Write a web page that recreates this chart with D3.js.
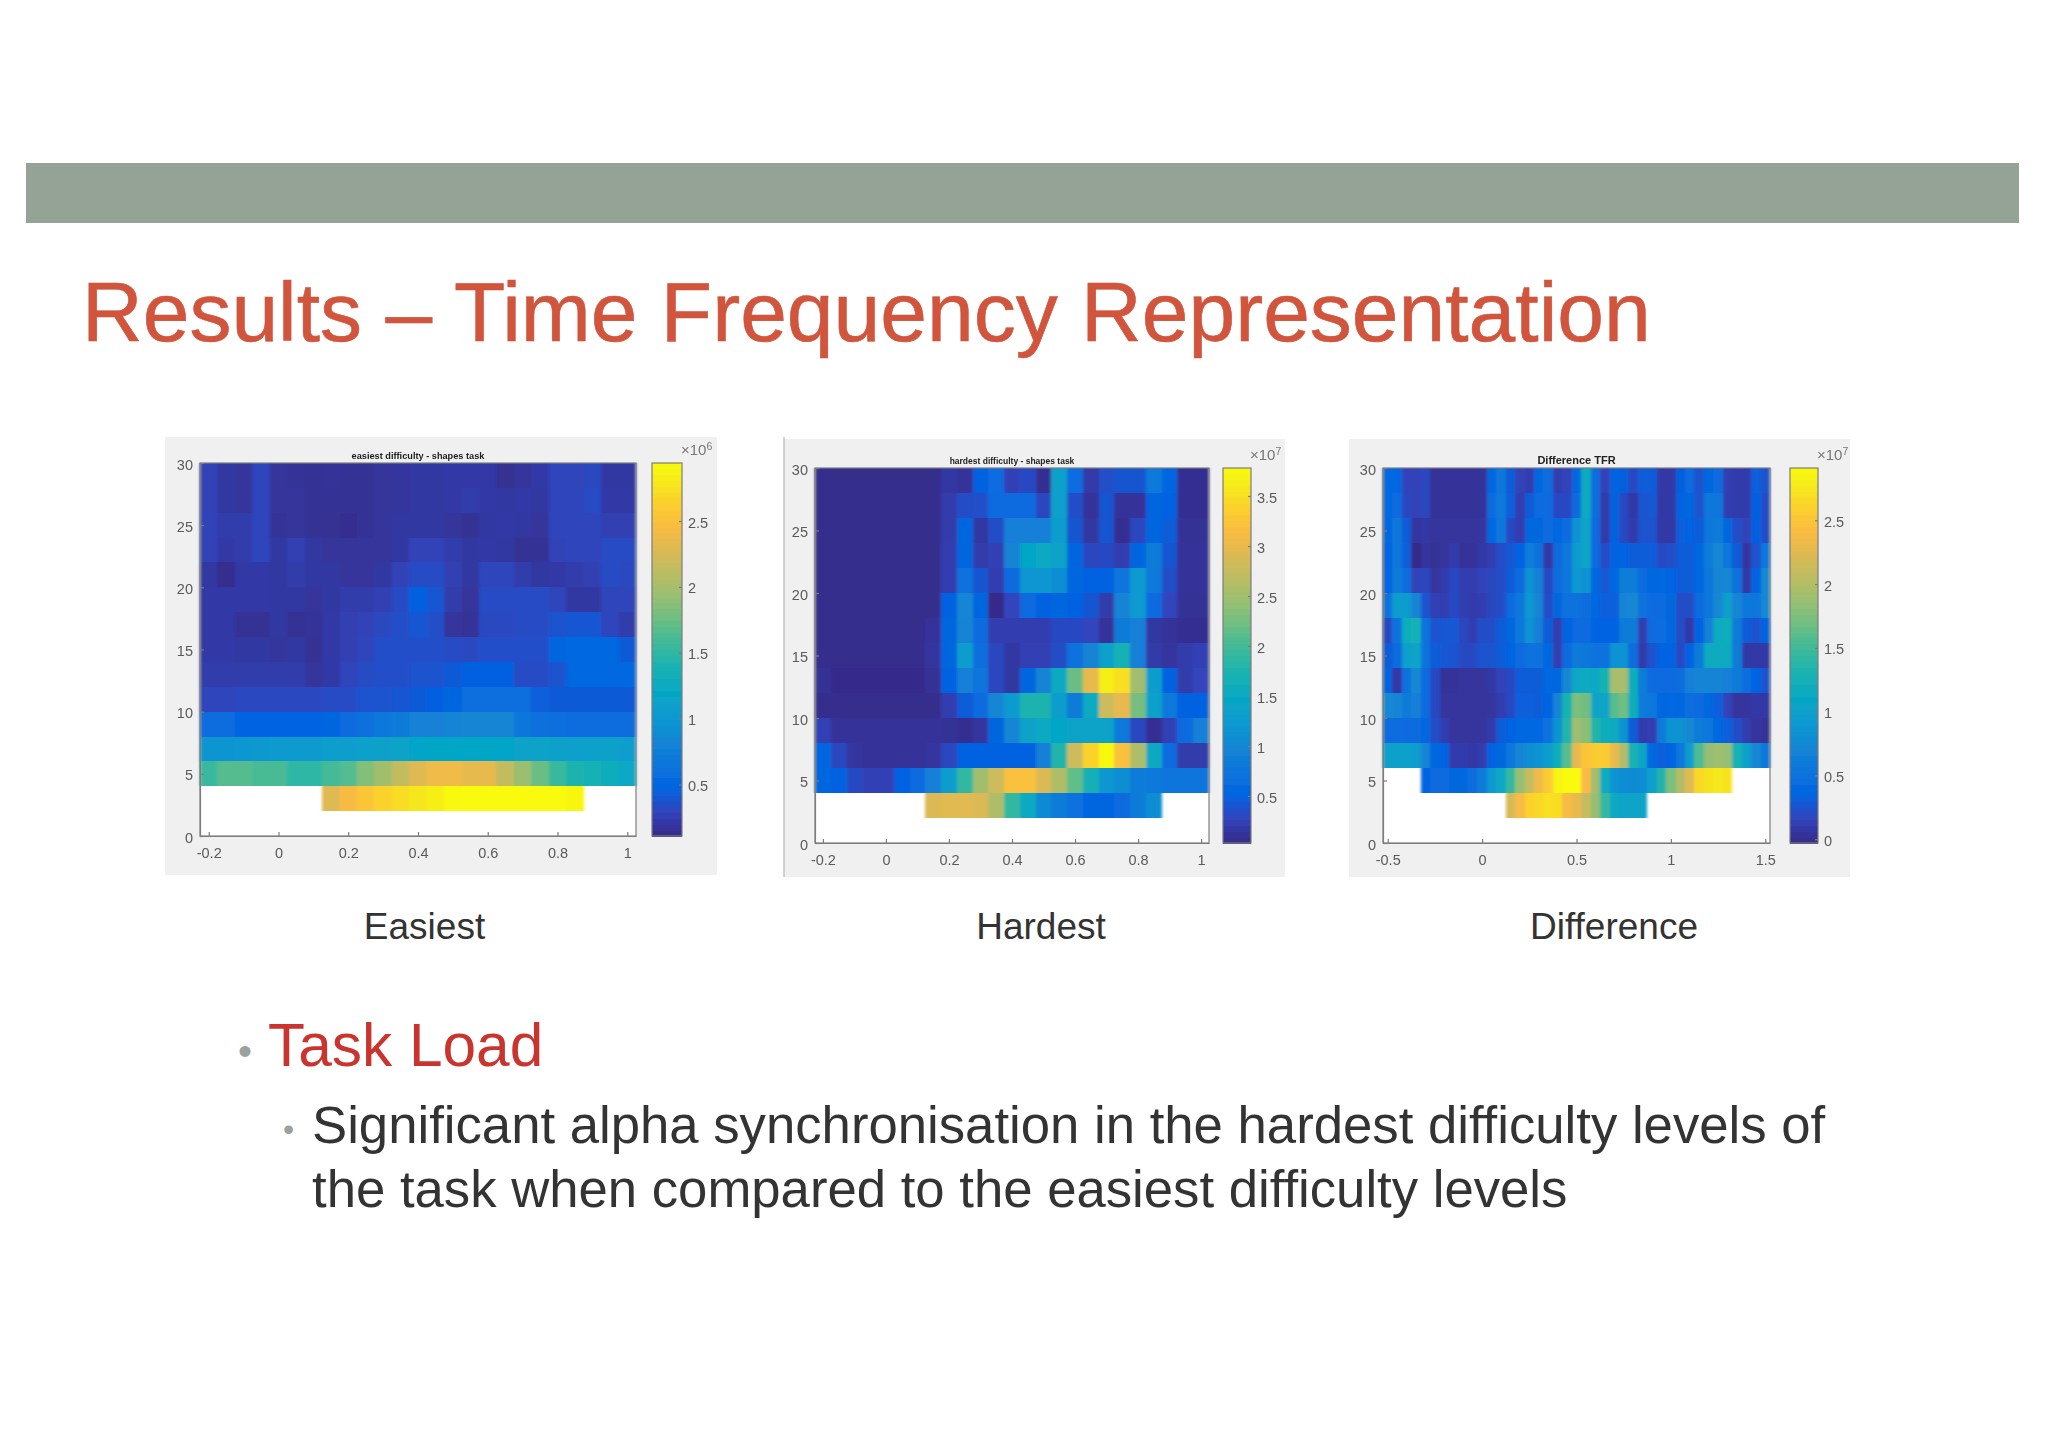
<!DOCTYPE html>
<html>
<head>
<meta charset="utf-8">
<script src="https://cdn.jsdelivr.net/npm/d3@7"></script>
<style>
  html, body { margin: 0; background: #fff; }
  text { font-family: "Liberation Sans", Arial, sans-serif; }
  .axis path, .axis line { stroke: #7d7d7d; stroke-width: 1.2; }
  .axis text { fill: #5a5a5a; font-size: 14.5px; }
  .cell, .step { shape-rendering: crispEdges; }
</style>
</head>
<body>
<svg id="slide" width="2048" height="1448"></svg>
<script>
const N = null

// colormap (parula) stops
const parulaPos = [0, 4, 8, 12, 16, 20, 24, 28, 32, 36, 40, 44, 48, 52, 56, 60, 63]
const parulaColors = ['#352A87', '#3243BA', '#0363E1', '#0D75DC', '#1485D4', '#0998D1', '#06A7C6', '#15B1B4', '#38B99E',
  '#65BE86', '#92BF73', '#B7BD64', '#D9BA56', '#F8BB44', '#FCCE2E', '#F5EB18', '#F9FB0E']

// row centres in Hz, top row first
const freqs = [29, 27, 25, 23, 21, 19, 17, 15, 13, 11, 9, 7, 5, 3]
const freqTicks = [0, 5, 10, 15, 20, 25, 30]

const timesShort = [-0.2, -0.15, -0.1, -0.05, 0, 0.05, 0.1, 0.15, 0.2, 0.25, 0.3, 0.35, 0.4, 0.45, 0.5, 0.55, 0.6, 0.65, 0.7, 0.75, 0.8, 0.85, 0.9, 0.95, 1]
const timesLong = [-0.5, -0.45, -0.4, -0.35, -0.3, -0.25, -0.2, -0.15, -0.1, -0.05, 0, 0.05, 0.1, 0.15, 0.2, 0.25, 0.3, 0.35, 0.4, 0.45, 0.5,
  0.55, 0.6, 0.65, 0.7, 0.75, 0.8, 0.85, 0.9, 0.95, 1, 1.05, 1.1, 1.15, 1.2, 1.25, 1.3, 1.35, 1.4, 1.45, 1.5]
const timeTicksShort = [-0.2, 0, 0.2, 0.4, 0.6, 0.8, 1]
const timeTicksLong = [-0.5, 0, 0.5, 1, 1.5]

// power x 10^6
const easiest = [
  [.28,.20,.18,.30,.18,.17,.16,.17,.16,.16,.18,.19,.20,.20,.22,.22,.22,.15,.18,.22,.30,.30,.32,.20,.20],
  [.28,.20,.18,.30,.18,.18,.16,.16,.16,.16,.18,.19,.20,.20,.22,.24,.22,.20,.22,.20,.30,.30,.34,.22,.22],
  [.28,.24,.24,.30,.17,.18,.16,.15,.14,.16,.18,.20,.20,.20,.18,.16,.20,.22,.20,.18,.30,.30,.30,.26,.26],
  [.28,.22,.24,.30,.20,.26,.20,.18,.18,.18,.18,.20,.28,.28,.24,.20,.22,.20,.16,.16,.28,.30,.30,.34,.34],
  [.20,.13,.22,.22,.20,.24,.20,.20,.18,.18,.20,.28,.34,.34,.26,.20,.30,.30,.24,.20,.22,.24,.26,.34,.32],
  [.22,.22,.22,.22,.20,.20,.18,.20,.24,.24,.26,.34,.46,.40,.24,.18,.34,.34,.34,.34,.30,.20,.20,.30,.30],
  [.22,.22,.16,.16,.20,.16,.17,.22,.26,.28,.32,.36,.40,.36,.18,.17,.32,.32,.34,.34,.38,.40,.40,.30,.24],
  [.22,.22,.20,.20,.19,.20,.16,.22,.26,.30,.36,.36,.36,.36,.34,.32,.36,.36,.36,.36,.50,.52,.52,.52,.42],
  [.24,.24,.24,.24,.24,.24,.18,.22,.30,.34,.36,.36,.38,.38,.42,.46,.46,.46,.34,.34,.38,.52,.52,.52,.52],
  [.30,.30,.32,.32,.32,.32,.32,.34,.34,.38,.38,.40,.42,.46,.50,.58,.58,.58,.58,.44,.42,.42,.42,.42,.42],
  [.56,.56,.48,.48,.48,.48,.48,.50,.55,.60,.68,.72,.78,.78,.82,.84,.84,.84,.66,.60,.58,.56,.56,.56,.56],
  [.98,.98,1.0,1.02,1.04,1.04,1.05,1.08,1.08,1.1,1.12,1.14,1.16,1.18,1.18,1.18,1.18,1.16,1.14,1.14,1.12,1.1,1.1,1.1,1.08],
  [1.55,1.66,1.66,1.62,1.62,1.5,1.5,1.6,1.65,1.85,1.98,2.15,2.3,2.4,2.4,2.35,2.35,2.15,1.95,1.75,1.55,1.42,1.36,1.3,1.2],
  [N,N,N,N,N,N,N,2.3,2.45,2.55,2.65,2.72,2.78,2.84,2.92,2.93,2.93,2.93,2.93,2.93,2.93,2.9,N,N,N]
]

// power x 10^7
const hardest = [
  [.06,.06,.06,.06,.06,.06,.06,.06,.16,.12,.5,.62,.25,.32,.08,1.35,.62,.18,.36,.4,.4,.8,.55,.08,.08],
  [.06,.06,.06,.06,.06,.06,.06,.06,.2,.34,.36,.6,.6,.6,.3,1.35,.35,.12,.4,.12,.12,.55,.5,.08,.08],
  [.06,.06,.06,.06,.06,.06,.06,.06,.2,.55,.15,.35,.9,.9,.9,1.3,.4,.15,.4,.08,.3,.55,.45,.1,.1],
  [.06,.06,.06,.06,.06,.06,.06,.06,.22,.55,.2,.25,.95,1.45,1.5,1.4,.55,.3,.32,.22,.55,.85,.4,.12,.12],
  [.06,.06,.06,.06,.06,.06,.06,.06,.22,.7,.4,.22,.6,1.2,1.2,1.1,.55,.5,.5,.75,1.25,.8,.35,.12,.12],
  [.06,.06,.06,.06,.06,.06,.06,.06,.5,1.0,.55,.04,.28,.6,.5,.55,.5,.4,.2,.95,1.25,.6,.28,.1,.1],
  [.06,.06,.06,.06,.06,.06,.06,.12,.55,.95,.6,.22,.22,.22,.22,.32,.32,.28,.12,.85,.9,.15,.12,.08,.08],
  [.06,.06,.06,.06,.06,.06,.06,.14,.55,1.3,.65,.3,.15,.24,.24,.35,.7,.95,1.35,1.7,.9,.18,.14,.2,.25],
  [.1,.05,.05,.05,.05,.05,.05,.1,.5,.9,.75,.3,.15,.55,.95,1.5,2.2,3.0,3.65,3.5,2.5,1.3,.5,.2,.28],
  [.06,.06,.06,.06,.06,.06,.06,.06,.22,.45,.6,1.0,1.25,1.75,1.75,1.3,.85,1.55,2.8,3.0,2.25,1.35,.8,.5,.5],
  [.25,.12,.12,.12,.12,.12,.12,.12,.1,.08,.14,.55,1.0,1.4,1.5,1.45,1.4,1.4,1.4,.8,.3,.08,.25,.6,.9],
  [.55,.3,.14,.12,.12,.12,.12,.14,.3,.5,.5,.5,.5,.5,.9,1.8,2.8,3.4,3.75,3.2,2.6,1.5,.6,.2,.2],
  [.55,.5,.32,.25,.25,.5,.6,.9,1.3,1.9,2.5,2.8,3.2,3.2,2.9,2.6,2.15,1.65,1.2,1.1,.85,.8,.75,.75,.75],
  [N,N,N,N,N,N,N,2.9,2.95,2.95,2.9,2.6,1.9,1.5,1.05,.85,.7,.55,.55,.6,.85,1.1,N,N,N]
]

// power difference x 10^7
const difference = [
  [.38,.38,.15,.15,.18,.04,.04,.04,.04,.04,.04,.4,.55,.3,.15,.12,.4,.45,.12,.15,.4,1.15,.45,.15,.35,.33,.2,.3,.3,.08,.08,.33,.42,.25,.4,.42,.12,.1,.1,.32,.25],
  [.38,.42,.18,.15,.18,.04,.04,.04,.04,.04,.04,.42,.58,.32,.12,.3,.42,.42,.2,.2,.42,1.15,.45,.1,.35,.2,.08,.25,.28,.08,.08,.35,.4,.25,.55,.55,.12,.1,.1,.33,.22],
  [.4,.55,.3,.06,.08,.05,.05,.05,.05,.05,.05,.38,.55,.2,.12,.4,.4,.42,.38,.42,.85,1.05,.42,.1,.35,.2,.1,.25,.25,.08,.08,.32,.35,.3,.55,.6,.4,.22,.15,.33,.22],
  [.35,.55,.32,-.02,.05,.02,.05,.1,.04,.04,.08,.12,.22,.28,.35,.62,.5,.08,.42,.55,.95,1.05,.42,.22,.35,.35,.3,.3,.3,.2,.22,.3,.3,.4,.6,.75,.55,.3,.05,.25,.55],
  [.35,.6,.45,.15,.18,.06,.1,.2,.12,.12,.15,.18,.22,.3,.42,.85,.65,.2,.45,.55,.9,.85,.4,.28,.38,.62,.62,.42,.4,.38,.35,.3,.3,.4,.55,.7,.75,.5,.08,.35,.75],
  [.5,.95,.95,.7,.25,.14,.12,.2,.12,.1,.12,.18,.22,.42,.55,.9,.7,.22,.4,.5,.5,.45,.38,.32,.32,.7,.75,.5,.42,.42,.4,.22,.22,.42,.55,.75,1.0,.72,.55,.55,.75],
  [.2,.5,1.2,1.25,.5,.25,.28,.28,.18,.12,.22,.22,.3,.4,.55,.85,.65,.3,.12,.35,.42,.42,.35,.35,.35,.6,.6,.12,.42,.45,.4,.22,.08,.35,.65,1.15,1.2,.6,.3,.25,.35],
  [.3,.42,1.0,1.05,.5,.3,.28,.25,.2,.2,.25,.25,.3,.35,.42,.5,.5,.4,.12,.42,.6,.55,.5,.5,.85,.85,.45,.1,.25,.35,.35,.2,.35,.6,1.15,1.15,1.15,.6,.08,.08,.08],
  [.35,.08,.5,.75,.42,.2,.04,.04,.05,.05,.05,.08,.15,.2,.3,.3,.3,.38,.4,.75,1.1,1.15,1.1,1.3,1.95,1.95,1.2,.62,.42,.42,.42,.45,.65,.7,.7,.7,.65,.6,.45,.35,.25],
  [.75,.7,.6,.65,.42,.2,.05,.05,.05,.05,.05,.05,.12,.2,.32,.32,.3,.35,.7,1.3,1.75,1.7,1.05,1.05,1.6,1.7,1.2,.6,.55,.4,.38,.4,.45,.42,.4,.32,.15,.05,.06,.08,.08],
  [.42,.45,.42,.42,.4,.22,.12,.05,.05,.05,.05,.1,.3,.35,.38,.38,.38,.5,.85,1.35,1.9,1.8,1.35,1.2,1.15,.85,.3,.1,.12,.6,.85,.85,.75,.6,.55,.38,.32,.22,.12,.05,.03],
  [1.0,1.0,1.0,.95,.7,.4,.35,.1,.1,.08,.12,.35,.4,.55,.7,.8,.85,.95,1.2,1.6,2.3,2.5,2.55,2.55,2.3,2.0,1.3,1.05,.4,.32,.35,.55,.95,1.55,1.85,1.9,1.85,1.25,1.0,.75,.55],
  [N,N,N,N,.35,.42,.42,.4,.4,.45,.6,.9,1.1,1.45,1.85,2.1,2.35,2.55,2.85,2.9,2.9,2.4,1.9,1.15,.85,.8,.78,.8,1.0,1.35,1.75,2.0,2.25,2.65,2.72,2.75,2.72,N,N,N,N],
  [N,N,N,N,N,N,N,N,N,N,N,N,N,2.2,2.4,2.6,2.65,2.7,2.68,2.4,2.3,2.1,1.85,1.45,1.1,1.05,1.05,1.05,N,N,N,N,N,N,N,N,N,N,N,N,N]
]

const barTicksEasiest = [0.5, 1, 1.5, 2, 2.5]
const barTicksHardest = [0.5, 1, 1.5, 2, 2.5, 3, 3.5]
const barTicksDifference = [0, 0.5, 1, 1.5, 2, 2.5]

const panels = [
  {title: 'easiest difficulty - shapes task', titleSize: 9.2, caption: 'Easiest', captionX: 424.5, values: easiest, times: timesShort,
   timeTicks: timeTicksShort, barTicks: barTicksEasiest, domain: [0.11, 2.94], exp: '6',
   bg: [165, 437, 717, 875], plot: [200, 463, 636, 836], bar: [652, 682]},
  {title: 'hardest difficulty - shapes task', titleSize: 8.5, caption: 'Hardest', captionX: 1041, values: hardest, times: timesShort,
   timeTicks: timeTicksShort, barTicks: barTicksHardest, domain: [0.03, 3.78], exp: '7',
   bg: [784, 439, 1285, 877], plot: [815, 468, 1209, 843], bar: [1223, 1251]},
  {title: 'Difference TFR', titleSize: 11, caption: 'Difference', captionX: 1614, values: difference, times: timesLong,
   timeTicks: timeTicksLong, barTicks: barTicksDifference, domain: [-0.03, 2.91], exp: '7',
   bg: [1349, 439, 1850, 877], plot: [1383, 468, 1770, 843], bar: [1790, 1818]}
]

const svg = d3.select('#slide')

const defs = svg.append('defs')
defs.append('filter').attr('id', 'soft')
  .append('feGaussianBlur').attr('stdDeviation', 0.5)
defs.append('filter').attr('id', 'smear')
  .append('feGaussianBlur').attr('stdDeviation', '1.6 0.6')

// slide furniture
svg.append('rect').attr('x', 26).attr('y', 163).attr('width', 1993).attr('height', 60).attr('fill', '#95A397')
svg.append('text').attr('x', 82).attr('y', 341).attr('font-size', 84).attr('fill', '#D1543C')
  .attr('stroke', '#D1543C').attr('stroke-width', 0.6)
  .text('Results \u2013 Time Frequency Representation')

panels.forEach(function(p) {
  const g = svg.append('g').attr('filter', 'url(#soft)')
  const [bx0, by0, bx1, by1] = p.bg
  const [left, top, right, bottom] = p.plot
  g.append('rect').attr('x', bx0).attr('y', by0).attr('width', bx1 - bx0).attr('height', by1 - by0).attr('fill', '#f0f0f0')
  g.append('rect').attr('x', left).attr('y', top).attr('width', right - left).attr('height', bottom - top).attr('fill', '#fff')

  const half = 0.025
  const x = d3.scaleLinear().domain([p.times[0] - half, p.times[p.times.length - 1] + half]).range([left, right])
  const y = d3.scaleLinear().domain([0, 30]).range([bottom, top])
  const color = d3.scaleLinear().domain(parulaPos.map(function(d) { return p.domain[0] + (p.domain[1] - p.domain[0]) * d / 63 }))
    .range(parulaColors).clamp(true)

  const cells = []
  p.values.forEach(function(row, r) {
    row.forEach(function(v, c) {
      if (v !== null) cells.push({t: p.times[c], f: freqs[r], v: v})
    })
  })
  g.append('g').attr('filter', 'url(#smear)')
    .selectAll('rect').data(cells).enter().append('rect').attr('class', 'cell')
    .attr('x', function(d) { return x(d.t - half) })
    .attr('y', function(d) { return y(d.f + 1) })
    .attr('width', function(d) { return x(d.t + half) - x(d.t - half) })
    .attr('height', function(d) { return y(d.f - 1) - y(d.f + 1) })
    .attr('fill', function(d) { return color(d.v) })

  // box
  g.append('rect').attr('x', left).attr('y', top).attr('width', right - left).attr('height', bottom - top)
    .attr('fill', 'none').attr('stroke', '#7d7d7d').attr('stroke-width', 1.2)

  const xAxis = d3.axisBottom(x).tickValues(p.timeTicks).tickFormat(function(d) { return d })
    .tickSizeInner(-4).tickSizeOuter(0).tickPadding(12)
  g.append('g').attr('class', 'axis').attr('transform', 'translate(0,' + bottom + ')').call(xAxis)
  const yAxis = d3.axisLeft(y).tickValues(freqTicks).tickSizeInner(-4).tickSizeOuter(0).tickPadding(7)
  const yG = g.append('g').attr('class', 'axis').attr('transform', 'translate(' + left + ',0)').call(yAxis)
  yG.selectAll('text').attr('dy', '0.42em')

  g.append('text').attr('x', (left + right) / 2).attr('y', top - 4).attr('text-anchor', 'middle')
    .attr('font-size', p.titleSize).attr('font-weight', 'bold').attr('fill', '#222').text(p.title)

  // colour bar
  const [barL, barR] = p.bar
  const barY = d3.scaleLinear().domain(p.domain).range([bottom, top])
  const steps = d3.range(64).map(function(i) { return p.domain[0] + (p.domain[1] - p.domain[0]) * i / 64 })
  const stepSize = (p.domain[1] - p.domain[0]) / 64
  g.selectAll('rect.step').data(steps).enter().append('rect').attr('class', 'step')
    .attr('x', barL).attr('width', barR - barL)
    .attr('y', function(d) { return barY(d + stepSize) })
    .attr('height', function(d) { return barY(d) - barY(d + stepSize) + 0.5 })
    .attr('fill', function(d) { return color(d + stepSize / 2) })
  g.append('rect').attr('x', barL).attr('y', top).attr('width', barR - barL).attr('height', bottom - top)
    .attr('fill', 'none').attr('stroke', '#7d7d7d').attr('stroke-width', 1.2)
  const barAxis = d3.axisRight(barY).tickValues(p.barTicks).tickFormat(function(d) { return d })
    .tickSizeInner(-3).tickSizeOuter(0).tickPadding(6)
  const barG = g.append('g').attr('class', 'axis').attr('transform', 'translate(' + barR + ',0)').call(barAxis)
  barG.select('path').remove()
  barG.selectAll('text').attr('dy', '0.42em')

  const exp = g.append('text').attr('x', barR - 1).attr('y', top - 8).attr('font-size', 15).attr('fill', '#777')
  exp.append('tspan').text('\u00d710')
  exp.append('tspan').attr('dy', -5).attr('font-size', 10.5).text(p.exp)

  svg.append('text').attr('x', p.captionX).attr('y', 939).attr('text-anchor', 'middle')
    .attr('font-size', 37).attr('fill', '#333').text(p.caption)
})

// thin edge left of the middle screenshot
svg.append('line').attr('x1', 784).attr('x2', 784).attr('y1', 437).attr('y2', 877).attr('stroke', '#b5b5b5').attr('stroke-width', 1.2)

// bullets
svg.append('text').attr('x', 238).attr('y', 1065).attr('font-size', 40).attr('fill', '#9AA39B').text('\u2022')
svg.append('text').attr('x', 268).attr('y', 1066).attr('font-size', 60.4).attr('fill', '#C9352E').text('Task Load')
svg.append('text').attr('x', 283).attr('y', 1140).attr('font-size', 32).attr('fill', '#9AA39B').text('\u2022')
svg.append('text').attr('x', 312).attr('y', 1143).attr('font-size', 52.7).attr('fill', '#333').text('Significant alpha synchronisation in the hardest difficulty levels of')
svg.append('text').attr('x', 312).attr('y', 1207).attr('font-size', 52.7).attr('fill', '#333').text('the task when compared to the easiest difficulty levels')
</script>
</body>
</html>
